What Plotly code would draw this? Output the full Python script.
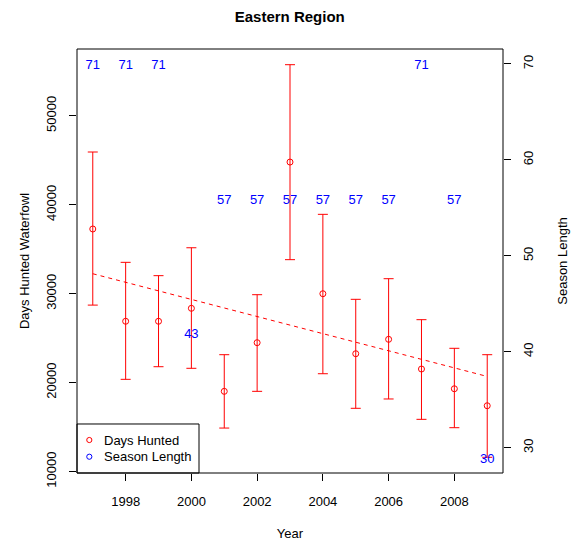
import numpy as np
import plotly.graph_objects as go

years = [1997, 1998, 1999, 2000, 2001, 2002, 2003, 2004, 2005, 2006, 2007, 2008, 2009]
days_hunted = [37280, 26900, 26900, 28360, 19020, 24490, 44810, 30000, 23250, 24870, 21530, 19310, 17400]
upper = [45940, 33530, 32030, 35170, 23140, 29890, 55760, 38930, 29370, 31690, 27080, 23860, 23140]
lower = [28720, 20370, 21790, 21610, 14890, 19020, 33830, 21000, 17110, 18160, 15870, 14930, 11600]
season_length = [71, 71, 71, 43, 57, 57, 57, 57, 57, 57, 71, 57, 30]

left_ticks = [10000, 20000, 30000, 40000, 50000]
right_ticks = [30, 40, 50, 60, 70]
x_ticks = [1998, 2000, 2002, 2004, 2006, 2008]
legend_labels = ["Days Hunted", "Season Length"]

FONT = "Liberation Sans, Arial, Helvetica, sans-serif"
RED = "#ff0000"
BLUE = "#0000ff"

err_plus = [u - d for u, d in zip(upper, days_hunted)]
err_minus = [d - l for d, l in zip(days_hunted, lower)]

slope, intercept = np.polyfit(years, days_hunted, 1)
trend_x = [years[0], years[-1]]
trend_y = [slope * x + intercept for x in trend_x]

fig = go.Figure()

fig.add_trace(go.Scatter(
    x=trend_x, y=trend_y, mode="lines",
    line=dict(color=RED, width=1, dash="4px,4px"),
    showlegend=False, hoverinfo="skip"))

fig.add_trace(go.Scatter(
    x=years, y=days_hunted, mode="markers", name="Days Hunted",
    marker=dict(symbol="circle-open", size=6, color=RED, line=dict(width=1, color=RED)),
    error_y=dict(type="data", symmetric=False, array=err_plus, arrayminus=err_minus,
                 color=RED, thickness=1, width=5)))

fig.add_trace(go.Scatter(
    x=years, y=season_length, mode="text", text=[str(s) for s in season_length],
    textfont=dict(color=BLUE, size=13, family=FONT), yaxis="y3", showlegend=False,
    hoverinfo="skip"))

# invisible trace to activate the right-hand axis
fig.add_trace(go.Scatter(x=[None], y=[None], yaxis="y2", showlegend=False, hoverinfo="skip"))

shift = 1.21
y2_range = [27.36, 71.56]

# manual legend (R-style box in bottom-left corner)
shapes = [
    dict(type="rect", xref="paper", yref="paper", x0=0, y0=0, x1=0.2864, y1=0.1156,
         line=dict(color="black", width=1), fillcolor="white", layer="above"),
]
annotations = []
leg_y = [0.0778, 0.0384]
leg_col = [RED, BLUE]
for lab, yy, col in zip(legend_labels, leg_y, leg_col):
    shapes.append(dict(type="circle", xref="paper", yref="paper",
                       xsizemode="pixel", ysizemode="pixel",
                       xanchor=0.0289, yanchor=yy, x0=-2.6, x1=2.6, y0=-2.6, y1=2.6,
                       line=dict(color=col, width=1), layer="above"))
    annotations.append(dict(xref="paper", yref="paper", x=0.0587, y=yy, text=lab,
                            showarrow=False, xanchor="left", yanchor="middle",
                            font=dict(size=13, family=FONT, color="black")))

shapes.append(dict(type="rect", xref="paper", yref="paper", x0=0, y0=0, x1=1, y1=1,
                   line=dict(color="black", width=1), layer="above"))

fig.update_layout(
    width=576, height=541,
    margin=dict(l=77, r=73, t=49, b=68, autoexpand=False),
    paper_bgcolor="white", plot_bgcolor="white",
    font=dict(family=FONT, size=13, color="black"),
    title=dict(text="<b>Eastern Region</b>", x=0.503, xanchor="center", y=1 - 17 / 541,
               yanchor="middle", font=dict(size=15, family=FONT, color="black")),
    xaxis=dict(range=[1996.52, 2009.48], tickvals=x_ticks, ticks="outside", ticklen=7,
               tickcolor="black", showgrid=False, zeroline=False, showline=False,
               ticklabelstandoff=9,
               title=dict(text="Year", standoff=21, font=dict(size=13))),
    yaxis=dict(range=[9834, 57526], tickvals=left_ticks, ticktext=[str(v) for v in left_ticks],
               ticks="outside", ticklen=7,
               tickcolor="black", tickangle=-90, showgrid=False, zeroline=False,
               showline=False, ticklabelstandoff=8,
               title=dict(text="Days Hunted Waterfowl", standoff=11, font=dict(size=13))),
    yaxis2=dict(range=y2_range, tickvals=right_ticks, ticktext=[str(v) for v in right_ticks],
                ticks="outside", ticklen=7,
                tickcolor="black", tickangle=-90, overlaying="y", side="right",
                showgrid=False, zeroline=False, showline=False, ticklabelstandoff=6,
                title=dict(text="Season Length", standoff=23, font=dict(size=13))),
    yaxis3=dict(range=[y2_range[0] + shift, y2_range[1] + shift], overlaying="y",
                visible=False, showgrid=False, zeroline=False),
    shapes=shapes,
    annotations=annotations,
    showlegend=False,
)

fig.write_html("out.html")
